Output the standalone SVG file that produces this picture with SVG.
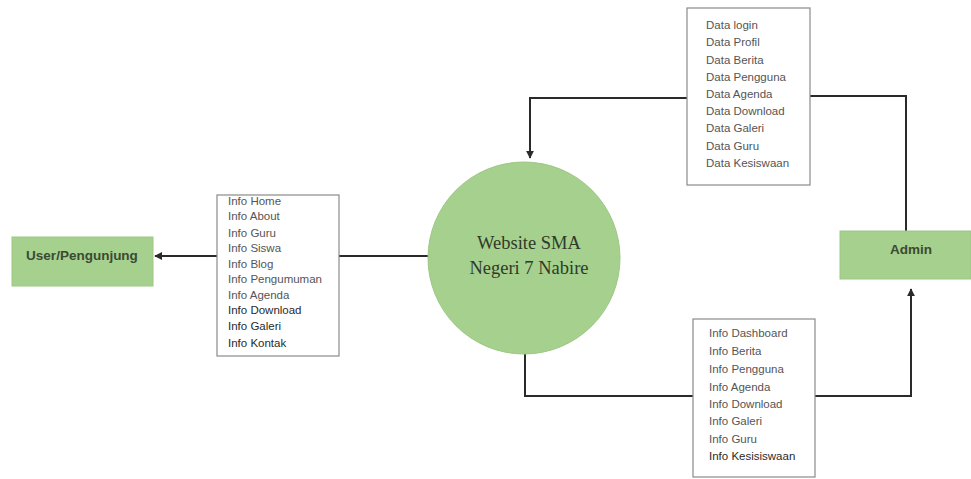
<svg xmlns="http://www.w3.org/2000/svg" width="971" height="479" viewBox="0 0 971 479">
<style>
.ent{fill:#a6d08d;stroke:#9cc884;stroke-width:1}
.lbl{font-family:"Liberation Sans",Arial,sans-serif;font-size:13.5px;font-weight:bold;fill:#3b4a33}
.box{fill:#ffffff;stroke:#8a8a8a;stroke-width:1.2}
.it{font-family:"Liberation Sans",Arial,sans-serif;font-size:11.5px;fill:#555555}
.dk{fill:#2a2a2a}
.con{fill:none;stroke:#2a2a2a;stroke-width:2}
.ctitle{font-family:"Liberation Serif","Times New Roman",serif;font-size:18.5px;fill:#2f3a2a;text-anchor:middle}
</style>
<defs>
<marker id="ah" viewBox="0 0 10 10" refX="9" refY="5" markerWidth="4" markerHeight="4" orient="auto">
<path d="M0,0 L10,5 L0,10 z" fill="#2a2a2a"/>
</marker>
</defs>
<g id="connectors">
<line class="con" x1="217" y1="256" x2="155" y2="256" marker-end="url(#ah)"/>
<line class="con" x1="339" y1="256" x2="428" y2="256"/>
<polyline class="con" points="687,98 530,98 530,158" marker-end="url(#ah)"/>
<polyline class="con" points="810,96 906,96 906,231"/>
<polyline class="con" points="525,354 525,396 693,396"/>
<polyline class="con" points="815,396 911,396 911,289" marker-end="url(#ah)"/>
</g>
<g id="user">
<rect class="ent" x="12" y="237" width="141" height="49"/>
<text class="lbl" x="82" y="260" text-anchor="middle">User/Pengunjung</text>
</g>
<g id="admin">
<rect class="ent" x="840" y="231" width="131" height="48"/>
<text class="lbl" x="911" y="254" text-anchor="middle">Admin</text>
</g>
<g id="website">
<circle cx="524" cy="258" r="96" fill="#a6d08d" stroke="#9cc884"/>
<text class="ctitle" x="529" y="249">Website SMA</text>
<text class="ctitle" x="529" y="274">Negeri 7 Nabire</text>
</g>
<g id="info-user">
<rect class="box" x="217" y="195" width="122" height="161"/>
<text class="it" x="228" y="205">Info Home</text>
<text class="it" x="228" y="220">Info About</text>
<text class="it" x="228" y="236.5">Info Guru</text>
<text class="it" x="228" y="252">Info Siswa</text>
<text class="it" x="228" y="267.5">Info Blog</text>
<text class="it" x="228" y="283">Info Pengumuman</text>
<text class="it" x="228" y="298.5">Info Agenda</text>
<text class="it dk" x="228" y="314">Info Download</text>
<text class="it dk" x="228" y="330">Info Galeri</text>
<text class="it dk" x="228" y="346.5">Info Kontak</text>
</g>
<g id="data-admin">
<rect class="box" x="687" y="8" width="123" height="177"/>
<text class="it" x="706" y="29">Data login</text>
<text class="it" x="706" y="46">Data Profil</text>
<text class="it" x="706" y="64">Data Berita</text>
<text class="it" x="706" y="81">Data Pengguna</text>
<text class="it" x="706" y="98">Data Agenda</text>
<text class="it" x="706" y="115">Data Download</text>
<text class="it" x="706" y="132">Data Galeri</text>
<text class="it" x="706" y="150">Data Guru</text>
<text class="it" x="706" y="167">Data Kesiswaan</text>
</g>
<g id="info-admin">
<rect class="box" x="693" y="319" width="122" height="158"/>
<text class="it" x="709" y="337">Info Dashboard</text>
<text class="it" x="709" y="355">Info Berita</text>
<text class="it" x="709" y="373">Info Pengguna</text>
<text class="it" x="709" y="391">Info Agenda</text>
<text class="it" x="709" y="408">Info Download</text>
<text class="it" x="709" y="425">Info Galeri</text>
<text class="it" x="709" y="443">Info Guru</text>
<text class="it dk" x="709" y="460">Info Kesisiswaan</text>
</g>
</svg>
